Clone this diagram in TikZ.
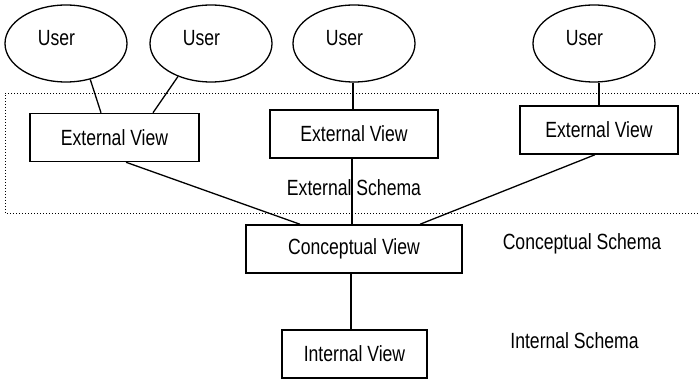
\documentclass[tikz,border=0pt]{standalone}
\usepackage{fontspec}
\setmainfont{Liberation Sans}[FakeStretch=0.8]
\usetikzlibrary{shapes.geometric,calc}
\tikzset{
  txt/.style={font=\fontsize{22}{26}\selectfont, inner sep=0pt},
  userell/.style={draw, ellipse, line width=1.3pt, minimum width=122pt, minimum height=77pt, inner sep=0pt,
     label={[txt, xshift=-9.5pt, yshift=5.5pt]center:User}},
  viewbox/.style={draw, rectangle, line width=1.5pt, minimum height=48pt, inner sep=0pt, font=\fontsize{22}{26}\selectfont},
  conn/.style={line width=1.3pt},
  schemabox/.style={line width=0.9pt, dash pattern=on 1pt off 2pt}
}
\begin{document}
\begin{tikzpicture}[x=1pt,y=-1pt]
\useasboundingbox (0,0) rectangle (699,379);
% dotted schema region
\draw[schemabox] (699,93) -- (5,93) -- (5,213) -- (699,213);
\node[txt] (extschema) at (354,188) {External Schema};
\node[txt] (conschema) at (582,244) {Conceptual Schema};
\node[txt] (intschema) at (574.5,341) {Internal Schema};
% users
\node[userell] (u1) at (66,43.5) {};
\node[userell] (u2) at (211,43.5) {};
\node[userell] (u3) at (354,43.5) {};
\node[userell] (u4) at (594,43.5) {};
% views
\node[viewbox, minimum width=169pt] (ev1) at (114.5,137.5) {External View};
\node[viewbox, minimum width=168pt] (ev2) at (354,134) {External View};
\node[viewbox, minimum width=158pt] (ev3) at (599,130) {External View};
\node[viewbox, minimum width=216pt] (cv) at (354,249) {Conceptual View};
\node[viewbox, minimum width=145pt] (iv) at (354.5,354) {Internal View};
% connectors
\draw[conn] (u1.-56) -- ([xshift=-13.5pt]ev1.north);
\draw[conn] (u2.-135) -- ([xshift=38.5pt]ev1.north);
\draw[conn] ([xshift=-1pt]u3.south) -- ([xshift=-1pt]ev2.north);
\draw[conn] (ev3.north |- u4.south) -- (ev3.north);
\draw[conn] ([xshift=11.5pt]ev1.south) -- ([xshift=-54pt]cv.north);
\draw[conn] ([xshift=-2pt]ev2.south) -- ([xshift=-2pt]cv.north);
\draw[conn] ([xshift=-4pt]ev3.south) -- ([xshift=66pt]cv.north);
\draw[conn] ([xshift=-3pt]cv.south) -- ([xshift=-3pt]cv.south |- iv.north);
\end{tikzpicture}
\end{document}
